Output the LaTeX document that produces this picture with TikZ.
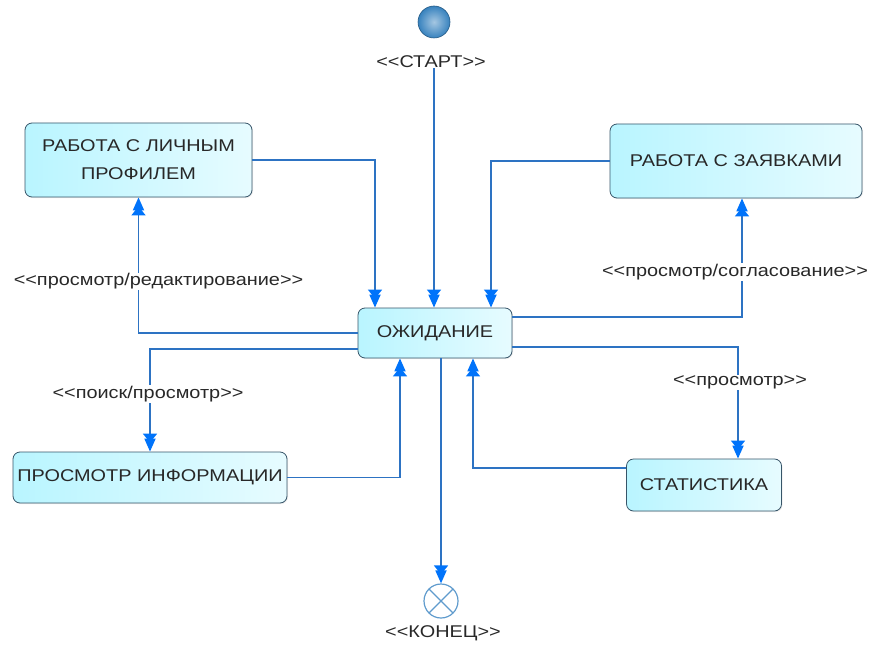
\documentclass[tikz,border=0pt]{standalone}
\usepackage{fontspec}
\setmainfont{Liberation Sans}[FakeStretch=1.17]
\usetikzlibrary{arrows.meta,positioning,shadows}
\definecolor{flowblue}{RGB}{45,115,195}
\definecolor{tipblue}{RGB}{0,115,250}
\definecolor{boxedge}{RGB}{55,85,105}
\definecolor{boxcyan}{RGB}{185,245,255}
\definecolor{txtgray}{RGB}{40,40,40}
\definecolor{endblue}{RGB}{95,155,205}
\definecolor{startblue}{RGB}{55,130,190}
\newcommand{\sopen}{<\kern0pt<}
\newcommand{\sclose}{>\kern0pt>}
\tikzset{
  state/.style={draw=boxedge, line width=0.8pt, rounded corners=7pt,
    left color=boxcyan, right color=boxcyan!35, align=center, text=txtgray,
    font=\fontsize{17}{28}\selectfont, inner sep=0pt,
    drop shadow={opacity=0.15, shadow xshift=1pt, shadow yshift=-1pt}},
  flow/.style={draw=flowblue, line width=1.8pt,
    -{Triangle[width=14pt,length=9pt,sep=-4pt,color=tipblue]Triangle[width=11pt,length=13pt,color=tipblue]}},
  lbl/.style={text=txtgray, font=\fontsize{17}{18}\selectfont, fill=white, inner sep=1pt},
  tag/.style={text=txtgray, font=\fontsize{17}{18}\selectfont, inner sep=0pt},
}
\begin{document}
\begin{tikzpicture}[x=1pt, y=-1pt]
\useasboundingbox (0,0) rectangle (874,647);
% start and end
\node (start) at (434,22) [circle, minimum size=32pt, inner sep=0pt, draw=startblue!70!black, line width=0.6pt,
  inner color=startblue!45!white, outer color=startblue] {};
\node (startlbl) at (431,62) [tag] {\sopen СТАРТ\sclose};
\node (end) at (441,601) [circle, minimum size=34pt, inner sep=0pt, draw=endblue, line width=1.2pt, fill=white,
  path picture={\draw[endblue, line width=1.2pt]
    (path picture bounding box.north west) -- (path picture bounding box.south east)
    (path picture bounding box.north east) -- (path picture bounding box.south west);}] {};
\node (endlbl) at (443,633) [tag] {\sopen КОНЕЦ\sclose};
% states
\node (wait) at (435,333) [state, minimum width=154pt, minimum height=50pt] {ОЖИДАНИЕ};
\node (profile) at (138.5,160) [state, minimum width=227pt, minimum height=74pt] {РАБОТА С ЛИЧНЫМ\\ПРОФИЛЕМ};
\node (orders) at (736,161) [state, minimum width=252pt, minimum height=74pt] {РАБОТА С ЗАЯВКАМИ};
\node (info) at (150,477.5) [state, minimum width=274pt, minimum height=51pt] {ПРОСМОТР ИНФОРМАЦИИ};
\node (stat) at (704,485) [state, minimum width=155pt, minimum height=52pt] {СТАТИСТИКА};
% transitions
\draw[flow] (start |- startlbl.south) -- (start |- wait.north);
\draw[flow] (profile.east) -| ([xshift=-60pt]wait.north);
\draw[flow] (orders.west) -| ([xshift=56pt]wait.north);
\draw[flow] (wait.west) -| (profile.south)
  node[lbl, pos=0.69, xshift=20pt] {\sopen просмотр/редактирование\sclose};
\draw[flow] ([yshift=-16pt]wait.west) -| (info.north)
  node[lbl, pos=0.72, xshift=-2pt] {\sopen поиск/просмотр\sclose};
\draw[flow] ([yshift=16pt]wait.east) -| ([xshift=6pt]orders.south)
  node[lbl, pos=0.69, xshift=-7pt] {\sopen просмотр/согласование\sclose};
\draw[flow] ([yshift=-14pt]wait.east) -| ([xshift=34pt]stat.north)
  node[lbl, pos=0.66, xshift=2pt] {\sopen просмотр\sclose};
\draw[flow] (info.east) -| ([xshift=-35pt]wait.south);
\draw[flow] ([yshift=17pt]stat.west) -| ([xshift=38pt]wait.south);
\draw[flow] (wait.south -| end) -- (end);
\end{tikzpicture}
\end{document}
